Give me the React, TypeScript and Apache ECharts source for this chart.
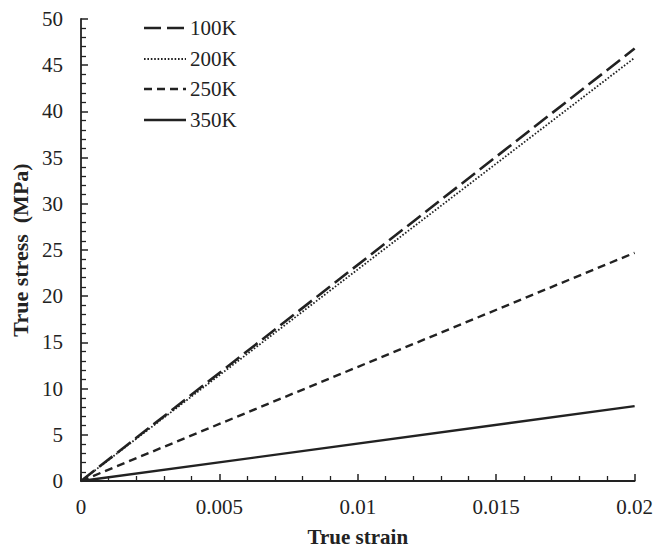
import React, { useEffect, useRef } from "react";
import * as echarts from "echarts";

const seriesNames = ["100K", "200K", "250K", "350K"];
const strainPoints = [0, 0.02];
const stress100K = [0, 46.8];
const stress200K = [0, 45.8];
const stress250K = [0, 24.7];
const stress350K = [0, 8.1];
const xTickLabels = ["0", "0.005", "0.01", "0.015", "0.02"];

const FONT = "'Liberation Serif', 'DejaVu Serif', serif";
const INK = "#222";

export default function App() {
  const ref = useRef<HTMLDivElement>(null);
  useEffect(() => {
    if (!ref.current) return;
    const chart = echarts.init(ref.current, undefined, { renderer: "svg" });
    const values = [stress100K, stress200K, stress250K, stress350K];
    const dashes: any[] = [[17, 6], [1.6, 1.8], [8, 5], "solid"];
    const widths = [2.6, 1.8, 2.4, 2.4];
    const rowY = [28, 59, 89, 120];
    const legendGraphics: any[] = [];
    seriesNames.forEach((n, i) => {
      legendGraphics.push({
        type: "line",
        shape: { x1: 144, y1: rowY[i], x2: 186, y2: rowY[i] },
        style: {
          stroke: INK,
          lineWidth: widths[i],
          lineDash: Array.isArray(dashes[i]) ? dashes[i] : null,
        },
      });
      legendGraphics.push({
        type: "text",
        x: 190,
        y: rowY[i],
        style: { text: n, fontFamily: FONT, fontSize: 21, fill: INK, verticalAlign: "middle", align: "left" },
      });
    });
    chart.setOption({
      animation: false,
      backgroundColor: "#fff",
      grid: { left: 81, top: 19, width: 555, height: 465 },
      graphic: legendGraphics,
      xAxis: {
        type: "value",
        min: 0,
        max: 0.02,
        interval: 0.005,
        axisLine: { show: true, lineStyle: { color: INK, width: 1.8 } },
        axisTick: { show: true, inside: true, length: 7, lineStyle: { color: INK, width: 1.5 } },
        minorTick: { show: true, splitNumber: 5, length: 5, lineStyle: { color: INK, width: 1.3 } },
        splitLine: { show: false },
        axisLabel: {
          show: true,
          margin: 15,
          fontFamily: FONT,
          fontSize: 21,
          color: INK,
          formatter: (v: number) => xTickLabels[Math.round(v / 0.005)] ?? "",
        },
        name: "True strain",
        nameLocation: "middle",
        nameGap: 45,
        nameTextStyle: { fontFamily: FONT, fontSize: 21, fontWeight: "bold", color: INK },
      },
      yAxis: {
        type: "value",
        min: 0,
        max: 50,
        interval: 5,
        axisLine: { show: true, lineStyle: { color: INK, width: 1.8 } },
        axisTick: { show: true, inside: true, length: 7, lineStyle: { color: INK, width: 1.5 } },
        minorTick: { show: true, splitNumber: 5, length: 5, lineStyle: { color: INK, width: 1.3 } },
        splitLine: { show: false },
        axisLabel: { show: true, margin: 18, fontFamily: FONT, fontSize: 21, color: INK },
        name: "True stress  (MPa)",
        nameLocation: "middle",
        nameGap: 45,
        nameTextStyle: { fontFamily: FONT, fontSize: 22, fontWeight: "bold", color: INK },
      },
      series: seriesNames.map((_n, i) => ({
        type: "line",
        symbol: "none",
        data: strainPoints.map((x, j) => [x, values[i][j]]),
        lineStyle: { color: INK, width: widths[i], type: dashes[i] },
      })),
    });
    return () => chart.dispose();
  }, []);
  return (
    <div
      ref={ref}
      style={{ position: "fixed", left: 0, top: 0, width: 656, height: 552, background: "#fff" }}
    />
  );
}
